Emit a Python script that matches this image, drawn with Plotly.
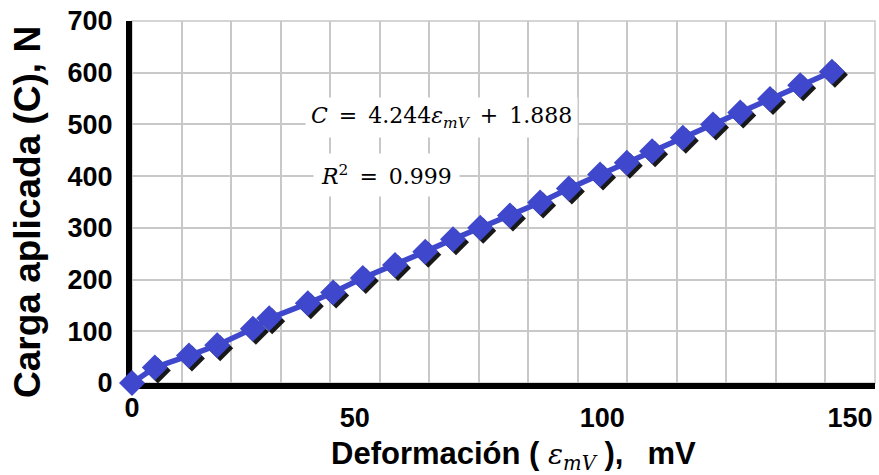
import plotly.graph_objects as go

deformacion = [0, 4.6, 11.5, 17.2, 24.4, 27.7, 35.5, 40.6, 46.6, 53.1, 59.2, 64.8, 70.3,
               76.3, 82.4, 88.2, 94.5, 99.9, 105.0, 111.2, 117.3, 122.8, 128.8, 134.9, 141.3]
carga = [0, 30, 53, 73, 105, 125, 154, 175, 203, 228, 254, 278, 300,
         324, 349, 376, 403, 426, 448, 474, 500, 523, 549, 576, 602]
x_ticks = [50, 100, 150]
x_tick_origin = [0]
y_ticks = [0, 100, 200, 300, 400, 500, 600, 700]
ESP = "\u2002"
ecuacion = f"<i>C</i>{ESP}={ESP}4.244<i>ε<sub>mV</sub></i>{ESP}+{ESP}1.888"
r2 = f"<i>R</i><sup>2</sup>{ESP}={ESP}0.999"
titulo_x = ("Deformación ( <span style='font-family:DejaVu Serif;font-weight:normal;"
            "font-style:italic;font-size:28px'>ε<sub>mV</sub></span> ),"
            f"{ESP} mV")
titulo_y = "Carga aplicada (C), N"

W, H = 879, 475
L, R, T, B = 132, 4, 21, 92
pw, ph = W - L - R, H - T - B
XMAX, YMAX = 150, 700
dx = 3 * XMAX / pw
dy = 3 * YMAX / ph

BLUE = "#3F48CC"
SANS = "Liberation Sans"
SERIF = "DejaVu Serif"
GRID = "#C8C8C8"
tickfont = dict(family=SANS, size=27, color="black", weight="bold")

fig = go.Figure()
# drop shadow of markers (same data, drawn on an axis pair shifted by 3 px)
fig.add_trace(go.Scatter(x=deformacion, y=carga, mode="markers", xaxis="x", yaxis="y",
                         marker=dict(symbol="diamond", size=20, color="rgba(0,0,0,0.9)",
                                     line=dict(width=0)),
                         cliponaxis=False, hoverinfo="skip", showlegend=False))
# carrier for the origin tick label axis (draws nothing)
fig.add_trace(go.Scatter(x=deformacion, y=carga, mode="none", xaxis="x3", yaxis="y2",
                         hoverinfo="skip", showlegend=False))
fig.add_trace(go.Scatter(x=deformacion, y=carga, mode="lines+markers", xaxis="x2", yaxis="y2",
                         line=dict(color=BLUE, width=5.5),
                         marker=dict(symbol="diamond", size=20, color=BLUE, line=dict(width=0)),
                         cliponaxis=False, showlegend=False))

fig.update_layout(
    width=W, height=H, margin=dict(l=L, r=R, t=T, b=B),
    paper_bgcolor="white", plot_bgcolor="white",
    xaxis=dict(range=[-dx, XMAX - dx], visible=False, fixedrange=True),
    yaxis=dict(range=[dy, YMAX + dy], visible=False, fixedrange=True),
    xaxis2=dict(overlaying="x", side="bottom", anchor="y2", range=[0, XMAX], tickvals=x_ticks,
                showgrid=True, gridcolor=GRID, gridwidth=1.5,
                minor=dict(dtick=10, tick0=0, showgrid=True, gridcolor=GRID, gridwidth=1.5),
                showline=True, linecolor="black", linewidth=6, zeroline=False,
                ticks="", layer="below traces", automargin=False,
                ticklabelshift=-25, ticklabelstandoff=6, ticklabeloverflow="allow",
                tickfont=tickfont),
    xaxis3=dict(overlaying="x", side="bottom", anchor="y2", range=[0, XMAX],
                tickvals=x_tick_origin, showgrid=False, showline=False, zeroline=False,
                ticks="", automargin=False, ticklabelstandoff=6, tickfont=tickfont),
    yaxis2=dict(overlaying="y", side="left", range=[0, YMAX], tickvals=y_ticks,
                showgrid=True, gridcolor=GRID, gridwidth=1.5,
                showline=True, linecolor="black", linewidth=6, zeroline=False,
                ticks="", layer="below traces", automargin=False, ticklabelstandoff=8,
                tickfont=tickfont),
    shapes=[dict(type="rect", xref="paper", yref="paper", x0=0, x1=1, y0=0, y1=1,
                 line=dict(color=GRID, width=1.5), layer="below")],
    annotations=[
        dict(text=ecuacion, x=62.4, y=514, xref="x2", yref="y2", showarrow=False,
             font=dict(family=SERIF, size=22, color="black"), bgcolor="white", borderpad=5),
        dict(text=r2, x=51.3, y=402, xref="x2", yref="y2", showarrow=False,
             font=dict(family=SERIF, size=22, color="black"), bgcolor="white", borderpad=7),
        dict(text=titulo_y, x=0, xref="paper", xshift=-105, y=(ph - (212 - T)) / ph,
             yref="paper", textangle=-90, showarrow=False, xanchor="center", yanchor="middle",
             font=dict(family=SANS, size=37, color="black", weight="bold")),
        dict(text=titulo_x, x=(513 - L) / pw, xref="paper", y=-(455 - (T + ph)) / ph,
             yref="paper", showarrow=False, xanchor="center", yanchor="middle",
             font=dict(family=SANS, size=31, color="black", weight="bold")),
    ],
)

fig.write_html("out.html", config={"displayModeBar": False},
               post_script="document.body.style.margin='0px';")
